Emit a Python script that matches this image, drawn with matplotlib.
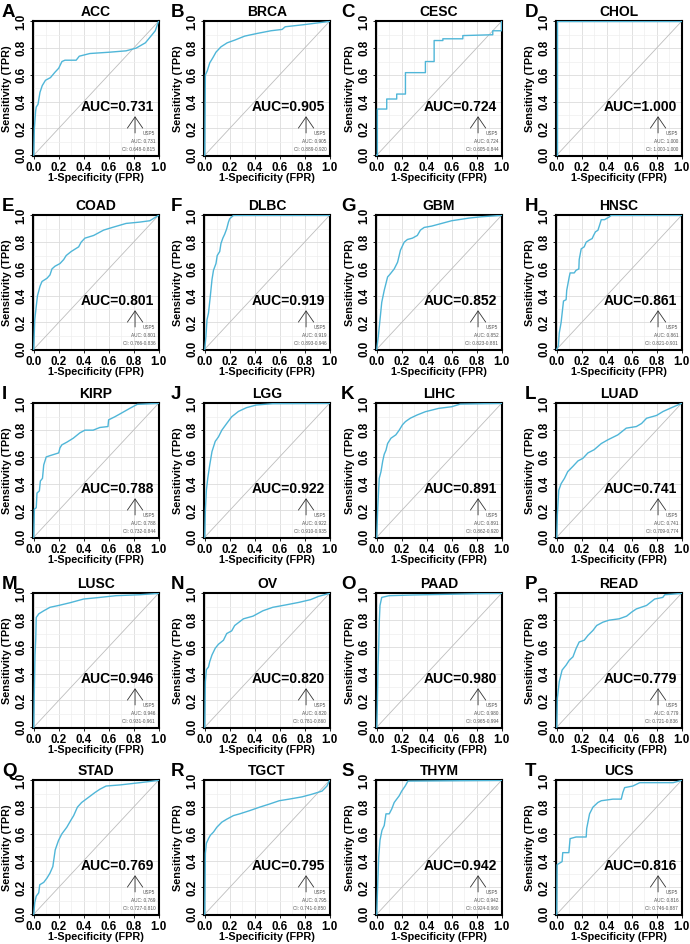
import matplotlib
matplotlib.use("Agg")
import matplotlib.pyplot as plt
from matplotlib import ticker

plt.rcParams["font.family"] = ["Liberation Sans", "DejaVu Sans"]

CANCERS = ["ACC", "BRCA", "CESC", "CHOL", "COAD", "DLBC", "GBM", "HNSC", "KIRP", "LGG",
           "LIHC", "LUAD", "LUSC", "OV", "PAAD", "READ", "STAD", "TGCT", "THYM", "UCS"]
LETTERS = list("ABCDEFGHIJKLMNOPQRST")
GENE = "USP5"
AUC = [0.731, 0.905, 0.724, 1.000, 0.801, 0.919, 0.852, 0.861, 0.788, 0.922,
       0.891, 0.741, 0.946, 0.820, 0.980, 0.779, 0.769, 0.795, 0.942, 0.816]
CI_LOW = [0.648, 0.889, 0.605, 1.000, 0.766, 0.893, 0.823, 0.821, 0.732, 0.910,
          0.862, 0.709, 0.931, 0.781, 0.965, 0.721, 0.727, 0.741, 0.924, 0.746]
CI_HIGH = [0.815, 0.920, 0.844, 1.000, 0.836, 0.946, 0.881, 0.901, 0.844, 0.935,
           0.920, 0.774, 0.961, 0.860, 0.994, 0.836, 0.810, 0.850, 0.960, 0.887]

# ROC curves (FPR, TPR)
ACC_FPR = [0, 0.005, 0.015, 0.02, 0.034, 0.05, 0.068, 0.094, 0.134, 0.17, 0.2, 0.226, 0.25, 0.34,
           0.365, 0.45, 0.61, 0.74, 0.82, 0.895, 0.948, 0.974, 1.0]
ACC_TPR = [0, 0.2, 0.33, 0.36, 0.38, 0.47, 0.52, 0.56, 0.58, 0.62, 0.65, 0.70, 0.71, 0.71,
           0.74, 0.76, 0.77, 0.78, 0.80, 0.84, 0.90, 0.93, 1.0]
BRCA_FPR = [0, 0.005, 0.02, 0.04, 0.066, 0.09, 0.13, 0.18, 0.24, 0.32, 0.42, 0.53, 0.62, 0.645, 0.79, 1.0]
BRCA_TPR = [0, 0.6, 0.63, 0.69, 0.73, 0.77, 0.81, 0.84, 0.86, 0.89, 0.91, 0.93, 0.94, 0.96, 0.975, 1.0]
CESC_FPR = [0, 0.005, 0.005, 0.08, 0.08, 0.16, 0.16, 0.23, 0.23, 0.39, 0.39, 0.46, 0.46, 0.53, 0.53,
            0.69, 0.69, 0.92, 0.93, 0.93, 1.0, 1.0]
CESC_TPR = [0, 0, 0.345, 0.345, 0.42, 0.42, 0.457, 0.457, 0.617, 0.617, 0.70, 0.70, 0.857, 0.857, 0.87,
            0.87, 0.894, 0.90, 0.90, 0.93, 0.93, 1.0]
CHOL_FPR = [0, 0.004, 0.004, 1.0]
CHOL_TPR = [0, 0, 1.0, 1.0]
COAD_FPR = [0, 0.008, 0.02, 0.03, 0.05, 0.066, 0.106, 0.13, 0.146, 0.17, 0.21, 0.24, 0.26, 0.30, 0.36,
            0.38, 0.41, 0.48, 0.56, 0.63, 0.74, 0.85, 0.93, 1.0]
COAD_TPR = [0, 0.22, 0.32, 0.40, 0.47, 0.506, 0.53, 0.555, 0.60, 0.62, 0.64, 0.67, 0.70, 0.73, 0.765,
            0.80, 0.83, 0.85, 0.89, 0.91, 0.94, 0.95, 0.96, 1.0]
DLBC_FPR = [0, 0.01, 0.018, 0.03, 0.045, 0.058, 0.07, 0.09, 0.10, 0.12, 0.13, 0.145, 0.16, 0.176,
            0.19, 0.20, 0.23, 1.0]
DLBC_TPR = [0, 0.1, 0.22, 0.27, 0.40, 0.52, 0.59, 0.64, 0.70, 0.73, 0.79, 0.83, 0.86, 0.90,
            0.95, 0.975, 1.0, 1.0]
GBM_FPR = [0, 0.013, 0.026, 0.04, 0.06, 0.087, 0.106, 0.14, 0.167, 0.19, 0.22, 0.246, 0.286, 0.325,
           0.35, 0.38, 0.44, 0.52, 0.60, 0.74, 0.84, 1.0]
GBM_TPR = [0, 0.1, 0.22, 0.35, 0.44, 0.54, 0.56, 0.60, 0.65, 0.74, 0.80, 0.82, 0.83, 0.85,
           0.89, 0.91, 0.92, 0.94, 0.96, 0.98, 0.99, 1.0]
HNSC_FPR = [0, 0.013, 0.02, 0.035, 0.054, 0.075, 0.08, 0.1, 0.107, 0.14, 0.155, 0.177, 0.18, 0.196,
            0.22, 0.236, 0.26, 0.284, 0.295, 0.31, 0.33, 0.343, 0.357, 0.383, 0.42, 0.437, 1.0]
HNSC_TPR = [0, 0.025, 0.12, 0.2, 0.36, 0.37, 0.44, 0.54, 0.57, 0.57, 0.59, 0.6, 0.67, 0.75,
            0.765, 0.80, 0.815, 0.827, 0.85, 0.877, 0.889, 0.926, 0.968, 0.968, 0.988, 1.0, 1.0]
KIRP_FPR = [0, 0.005, 0.02, 0.026, 0.045, 0.053, 0.07, 0.08, 0.1, 0.132, 0.2, 0.21, 0.225, 0.265,
            0.317, 0.37, 0.41, 0.476, 0.53, 0.595, 0.6, 0.65, 0.70, 0.77, 0.83, 1.0]
KIRP_TPR = [0, 0.21, 0.22, 0.33, 0.346, 0.42, 0.44, 0.54, 0.6, 0.61, 0.63, 0.667, 0.69, 0.71,
            0.74, 0.78, 0.80, 0.80, 0.82, 0.827, 0.877, 0.90, 0.926, 0.963, 0.993, 1.0]
LGG_FPR = [0, 0.005, 0.013, 0.024, 0.04, 0.058, 0.084, 0.11, 0.137, 0.176, 0.216, 0.27, 0.334,
           0.413, 0.545, 1.0]
LGG_TPR = [0, 0.2, 0.35, 0.44, 0.54, 0.64, 0.716, 0.75, 0.80, 0.85, 0.90, 0.94, 0.968,
           0.988, 0.998, 1.0]
LIHC_FPR = [0, 0.008, 0.016, 0.02, 0.034, 0.048, 0.06, 0.074, 0.087, 0.114, 0.153, 0.18, 0.206,
            0.23, 0.27, 0.325, 0.39, 0.497, 0.60, 0.67, 1.0]
LIHC_TPR = [0, 0.22, 0.37, 0.44, 0.49, 0.57, 0.62, 0.65, 0.70, 0.74, 0.765, 0.80, 0.84,
            0.864, 0.89, 0.914, 0.938, 0.963, 0.975, 0.995, 1.0]
LUAD_FPR = [0, 0.005, 0.016, 0.035, 0.062, 0.088, 0.13, 0.17, 0.21, 0.25, 0.30, 0.357, 0.41, 0.49,
            0.557, 0.638, 0.68, 0.72, 0.80, 0.853, 0.92, 1.0]
LUAD_TPR = [0, 0.17, 0.35, 0.40, 0.44, 0.49, 0.53, 0.57, 0.59, 0.63, 0.654, 0.70, 0.728, 0.765,
            0.815, 0.827, 0.85, 0.889, 0.91, 0.94, 0.968, 1.0]
LUSC_FPR = [0, 0.005, 0.01, 0.016, 0.02, 0.04, 0.08, 0.13, 0.2, 0.29, 0.40, 0.53, 0.66, 0.85, 1.0]
LUSC_TPR = [0, 0.29, 0.54, 0.66, 0.82, 0.847, 0.87, 0.896, 0.91, 0.93, 0.958, 0.97, 0.983, 0.99, 1.0]
OV_FPR = [0, 0.005, 0.013, 0.03, 0.04, 0.058, 0.084, 0.11, 0.15, 0.176, 0.216, 0.24, 0.31, 0.387,
          0.466, 0.545, 0.65, 0.755, 0.847, 0.913, 1.0]
OV_TPR = [0, 0.34, 0.43, 0.45, 0.49, 0.54, 0.59, 0.62, 0.65, 0.70, 0.72, 0.76, 0.81, 0.83,
          0.87, 0.896, 0.914, 0.933, 0.953, 0.978, 1.0]
PAAD_FPR = [0, 0.005, 0.01, 0.016, 0.02, 0.026, 0.04, 0.1, 0.286, 0.55, 0.815, 1.0]
PAAD_TPR = [0, 0.17, 0.46, 0.61, 0.785, 0.91, 0.97, 0.983, 0.988, 0.993, 0.998, 1.0]
READ_FPR = [0, 0.005, 0.02, 0.043, 0.075, 0.1, 0.13, 0.155, 0.18, 0.22, 0.25, 0.29, 0.32, 0.37,
            0.42, 0.50, 0.56, 0.6, 0.638, 0.72, 0.785, 0.85, 0.866, 1.0]
READ_TPR = [0, 0.217, 0.34, 0.427, 0.464, 0.5, 0.526, 0.588, 0.637, 0.65, 0.686, 0.723, 0.76, 0.785,
            0.80, 0.81, 0.83, 0.86, 0.884, 0.91, 0.958, 0.97, 0.99, 1.0]
STAD_FPR = [0, 0.008, 0.02, 0.04, 0.048, 0.08, 0.106, 0.13, 0.153, 0.172, 0.198, 0.225, 0.265,
            0.296, 0.32, 0.35, 0.384, 0.437, 0.49, 0.53, 0.58, 0.69, 0.85, 1.0]
STAD_TPR = [0, 0.086, 0.135, 0.16, 0.22, 0.238, 0.27, 0.307, 0.356, 0.48, 0.55, 0.60, 0.65,
            0.70, 0.737, 0.80, 0.835, 0.872, 0.909, 0.934, 0.958, 0.966, 0.983, 1.0]
TGCT_FPR = [0, 0.005, 0.013, 0.03, 0.045, 0.07, 0.097, 0.137, 0.176, 0.23, 0.28, 0.36, 0.44, 0.518,
            0.597, 0.676, 0.78, 0.86, 0.94, 0.98, 1.0]
TGCT_TPR = [0, 0.455, 0.53, 0.565, 0.59, 0.614, 0.65, 0.688, 0.71, 0.737, 0.75, 0.774, 0.80, 0.823,
            0.848, 0.86, 0.877, 0.897, 0.92, 0.958, 1.0]
THYM_FPR = [0, 0.008, 0.016, 0.026, 0.042, 0.06, 0.074, 0.1, 0.12, 0.14, 0.16, 0.18, 0.2, 0.228,
            0.25, 1.0]
THYM_TPR = [0, 0.233, 0.43, 0.553, 0.627, 0.663, 0.75, 0.75, 0.786, 0.835, 0.86, 0.885, 0.92, 0.958,
            0.995, 1.0]
UCS_FPR = [0, 0.003, 0.02, 0.043, 0.048, 0.097, 0.107, 0.155, 0.236, 0.24, 0.263, 0.29, 0.33, 0.357,
           0.45, 0.517, 0.53, 0.544, 0.61, 0.665, 0.933, 1.0]
UCS_TPR = [0, 0.37, 0.38, 0.393, 0.46, 0.46, 0.565, 0.577, 0.577, 0.64, 0.75, 0.80, 0.835, 0.848,
           0.86, 0.86, 0.91, 0.946, 0.958, 0.983, 0.983, 1.0]

CURVES = [
    (ACC_FPR, ACC_TPR), (BRCA_FPR, BRCA_TPR), (CESC_FPR, CESC_TPR), (CHOL_FPR, CHOL_TPR),
    (COAD_FPR, COAD_TPR), (DLBC_FPR, DLBC_TPR), (GBM_FPR, GBM_TPR), (HNSC_FPR, HNSC_TPR),
    (KIRP_FPR, KIRP_TPR), (LGG_FPR, LGG_TPR), (LIHC_FPR, LIHC_TPR), (LUAD_FPR, LUAD_TPR),
    (LUSC_FPR, LUSC_TPR), (OV_FPR, OV_TPR), (PAAD_FPR, PAAD_TPR), (READ_FPR, READ_TPR),
    (STAD_FPR, STAD_TPR), (TGCT_FPR, TGCT_TPR), (THYM_FPR, THYM_TPR), (UCS_FPR, UCS_TPR),
]

W_PX, H_PX = 690, 944
COL_LEFT = [33, 204, 376, 556]
ROW_TOP = [21, 215, 403, 593, 780]
LETTER_X = [2, 171, 341, 525]
AX_W, AX_H = 126, 135
LINE_COLOR = "#4FB6D8"


def main():
    fig = plt.figure(figsize=(W_PX / 100, H_PX / 100), dpi=100)
    ticks = [0.0, 0.2, 0.4, 0.6, 0.8, 1.0]
    for i, name in enumerate(CANCERS):
        r, c = divmod(i, 4)
        left = COL_LEFT[c] / W_PX
        bottom = 1 - (ROW_TOP[r] + AX_H) / H_PX
        ax = fig.add_axes([left, bottom, AX_W / W_PX, AX_H / H_PX])
        ax.set_xlim(-0.006, 1.004)
        ax.set_ylim(-0.006, 1.003)
        ax.set_xticks(ticks)
        ax.set_yticks(ticks)
        ax.set_xticklabels([f"{t:.1f}" for t in ticks])
        ax.set_yticklabels([f"{t:.1f}" for t in ticks], rotation=90, va="center")
        ax.xaxis.set_minor_locator(ticker.MultipleLocator(0.1))
        ax.yaxis.set_minor_locator(ticker.MultipleLocator(0.1))
        ax.grid(True, which="major", color="#DCDCDC", lw=0.6)
        ax.grid(True, which="minor", color="#EEEEEE", lw=0.5)
        ax.set_axisbelow(True)
        ax.tick_params(which="major", length=2, width=0.6, pad=2, labelsize=8.4)
        ax.tick_params(which="minor", length=0)
        for lab in ax.get_xticklabels() + ax.get_yticklabels():
            lab.set_fontweight("bold")
        for sp in ax.spines.values():
            sp.set_linewidth(1.5)

        ax.plot([0, 1], [0, 1], color="#BDBDBD", lw=0.6, zorder=2)
        fpr, tpr = CURVES[i]
        ax.plot(fpr, tpr, color=LINE_COLOR, lw=1.0, zorder=3)

        ax.set_xlabel("1-Specificity (FPR)", fontsize=7.8, fontweight="bold")
        ax.set_ylabel("Sensitivity (TPR)", fontsize=7.8, fontweight="bold")
        ax.xaxis.set_label_coords(0.5, -0.125)
        ax.yaxis.set_label_coords(-0.17, 0.5)

        ax.text(0.96, 0.36, f"AUC={AUC[i]:.3f}", fontsize=10, fontweight="bold",
                ha="right", va="center", transform=ax.transAxes, zorder=5)
        ax.annotate("", xy=(0.81, 0.315), xytext=(0.81, 0.15), xycoords="axes fraction",
                    arrowprops=dict(arrowstyle="->,head_length=0.8,head_width=0.55",
                                    color="#333333", lw=0.6), zorder=5)
        ax.text(0.97, 0.17, GENE, fontsize=3.4, color="#555555", ha="right", va="center",
                transform=ax.transAxes, zorder=5)
        ax.text(0.97, 0.108, f"AUC: {AUC[i]:.3f}", fontsize=3.4, color="#555555",
                ha="right", va="center", transform=ax.transAxes, zorder=5)
        ax.text(0.97, 0.045, f"CI: {CI_LOW[i]:.3f}-{CI_HIGH[i]:.3f}", fontsize=3.4,
                color="#555555", ha="right", va="center", transform=ax.transAxes, zorder=5)

        title_y = 1 - (ROW_TOP[r] - 9) / H_PX
        fig.text(left + AX_W / W_PX / 2, title_y, name, fontsize=10, fontweight="bold",
                 ha="center", va="center")
        fig.text(LETTER_X[c] / W_PX, title_y - 5 / H_PX, LETTERS[i], fontsize=13.5,
                 fontweight="bold", ha="left", va="baseline")

    fig.savefig("out.png", dpi=100, facecolor="white")


if __name__ == "__main__":
    main()
